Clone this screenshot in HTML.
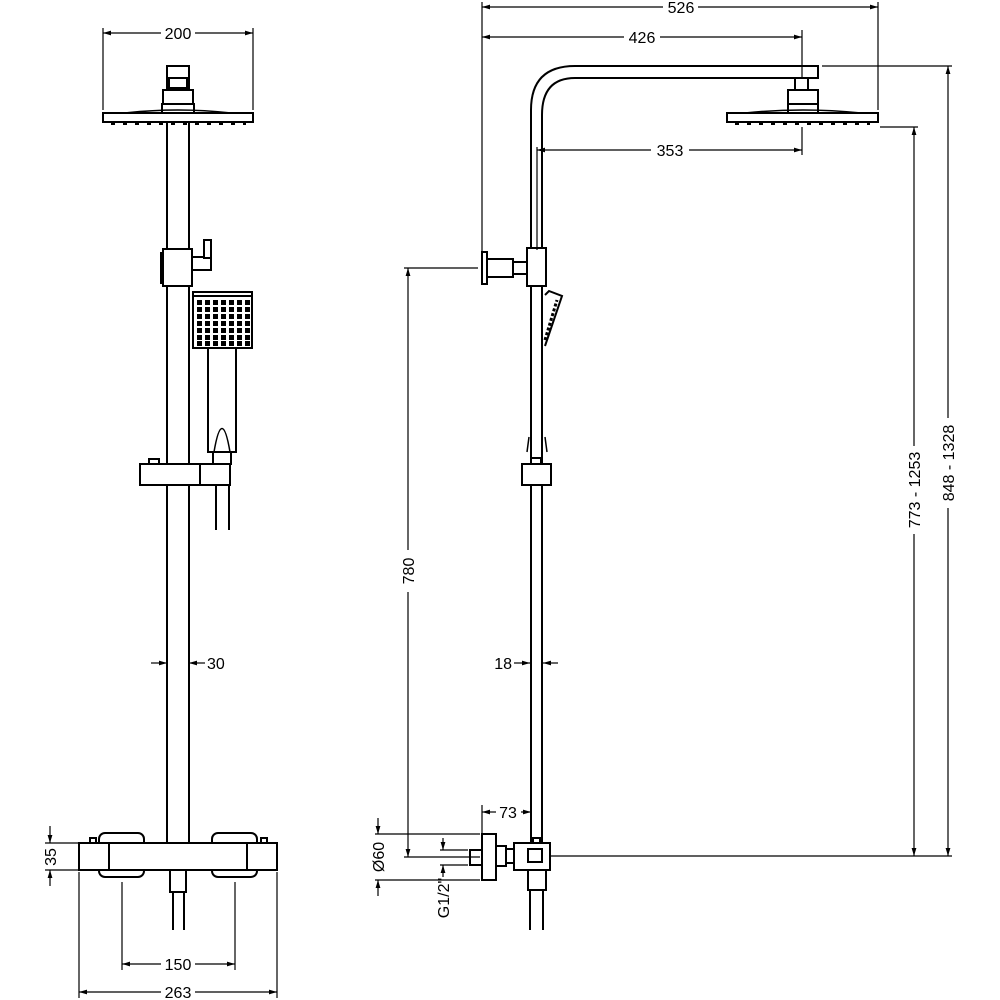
<!DOCTYPE html>
<html><head><meta charset="utf-8"><style>html,body{margin:0;padding:0;background:#fff}svg{display:block}</style></head>
<body>
<svg width="1000" height="1000" viewBox="0 0 1000 1000" xmlns="http://www.w3.org/2000/svg" font-family="Liberation Sans, sans-serif" font-size="16">
<defs>
<marker id="a" viewBox="0 0 10 6" refX="10" refY="3" markerWidth="7" markerHeight="4" orient="auto-start-reverse"><path d="M0,0 L10,3 L0,6z" fill="#000"/></marker>
</defs>
<g fill="none" stroke="#000" stroke-width="2">
<rect x="103" y="113" width="150" height="9"/>
<path d="M125,113 Q178,107 231,113" stroke-width="1.5"/>
<rect x="163" y="90" width="30" height="14"/>
<rect x="162" y="104" width="32" height="9"/>
<rect x="167" y="66" width="22" height="24"/>
<rect x="169" y="78" width="18" height="10"/>
<line x1="167" y1="122" x2="167" y2="843"/>
<line x1="189" y1="122" x2="189" y2="843"/>
<rect x="163" y="249" width="29" height="37" fill="#fff"/>
<rect x="161" y="253" width="2" height="30"/>
<rect x="192" y="257" width="19" height="13" fill="#fff"/>
<rect x="204" y="240" width="7" height="18" fill="#fff"/>
<rect x="193" y="292" width="59" height="56" fill="#fff"/>
<line x1="193" y1="296" x2="252" y2="296"/>
<rect x="208" y="348" width="28" height="104"/>
<path d="M214,452 Q222,405 230,452" stroke-width="1.5"/>
<rect x="213" y="452" width="18" height="12"/>
<rect x="140" y="464" width="90" height="21" fill="#fff"/>
<line x1="200" y1="464" x2="200" y2="485"/>
<rect x="149" y="459" width="10" height="5"/>
<line x1="216" y1="485" x2="216" y2="530"/>
<line x1="229" y1="485" x2="229" y2="530"/>
<rect x="99" y="833" width="45" height="44" rx="6"/>
<rect x="212" y="833" width="45" height="44" rx="6"/>
<rect x="79" y="843" width="198" height="27" fill="#fff"/>
<line x1="109" y1="843" x2="109" y2="870"/>
<line x1="247" y1="843" x2="247" y2="870"/>
<rect x="90" y="838" width="6" height="5"/>
<rect x="261" y="838" width="6" height="5"/>
<rect x="170" y="870" width="16" height="22"/>
<line x1="173" y1="892" x2="173" y2="930"/>
<line x1="184" y1="892" x2="184" y2="930"/>

<path d="M531,850 L531,110 Q531,66 575,66 L818,66 L818,78 L575,78 Q542,78 542,115 L542,850"/>
<rect x="795" y="78" width="13" height="12"/>
<rect x="788" y="90" width="30" height="14"/>
<rect x="788" y="104" width="30" height="9"/>
<rect x="727" y="113" width="151" height="9"/>
<path d="M745,113 Q803,107 861,113" stroke-width="1.5"/>
<rect x="527" y="248" width="19" height="38" fill="#fff"/>
<rect x="482" y="252" width="5" height="32"/>
<rect x="487" y="259" width="26" height="18"/>
<rect x="513" y="262" width="14" height="12"/>
<path d="M545,295 L549,291 L562,296 L545,346" fill="#fff"/>
<path d="M545,340 L557,300" stroke-width="3" stroke-dasharray="3,2"/>
<path d="M529,437 L527,452 M545,437 L547,452" stroke-width="1.5"/>
<rect x="531" y="458" width="10" height="6" fill="#fff"/>
<rect x="522" y="464" width="29" height="21" fill="#fff"/>
<rect x="514" y="843" width="36" height="27" fill="#fff"/>
<rect x="528" y="849" width="14" height="13"/>
<rect x="533" y="838" width="7" height="5"/>
<rect x="528" y="870" width="18" height="20" fill="#fff"/>
<line x1="530" y1="890" x2="530" y2="930"/>
<line x1="543" y1="890" x2="543" y2="930"/>
<rect x="482" y="834" width="14" height="46"/>
<rect x="496" y="846" width="10" height="20"/>
<rect x="506" y="849" width="8" height="14"/>
<rect x="470" y="850" width="12" height="15"/>
</g>

<g stroke="#000" stroke-width="2" stroke-dasharray="4,8">
<line x1="111" y1="124" x2="246" y2="124"/>
<line x1="735" y1="124" x2="870" y2="124"/>
</g>
<g fill="#000">
<rect x="197" y="300" width="5" height="5"/><rect x="205" y="300" width="5" height="5"/><rect x="213" y="300" width="5" height="5"/><rect x="221" y="300" width="5" height="5"/><rect x="229" y="300" width="5" height="5"/><rect x="237" y="300" width="5" height="5"/><rect x="245" y="300" width="5" height="5"/>
<rect x="197" y="307" width="5" height="5"/><rect x="205" y="307" width="5" height="5"/><rect x="213" y="307" width="5" height="5"/><rect x="221" y="307" width="5" height="5"/><rect x="229" y="307" width="5" height="5"/><rect x="237" y="307" width="5" height="5"/><rect x="245" y="307" width="5" height="5"/>
<rect x="197" y="314" width="5" height="5"/><rect x="205" y="314" width="5" height="5"/><rect x="213" y="314" width="5" height="5"/><rect x="221" y="314" width="5" height="5"/><rect x="229" y="314" width="5" height="5"/><rect x="237" y="314" width="5" height="5"/><rect x="245" y="314" width="5" height="5"/>
<rect x="197" y="321" width="5" height="5"/><rect x="205" y="321" width="5" height="5"/><rect x="213" y="321" width="5" height="5"/><rect x="221" y="321" width="5" height="5"/><rect x="229" y="321" width="5" height="5"/><rect x="237" y="321" width="5" height="5"/><rect x="245" y="321" width="5" height="5"/>
<rect x="197" y="328" width="5" height="5"/><rect x="205" y="328" width="5" height="5"/><rect x="213" y="328" width="5" height="5"/><rect x="221" y="328" width="5" height="5"/><rect x="229" y="328" width="5" height="5"/><rect x="237" y="328" width="5" height="5"/><rect x="245" y="328" width="5" height="5"/>
<rect x="197" y="335" width="5" height="5"/><rect x="205" y="335" width="5" height="5"/><rect x="213" y="335" width="5" height="5"/><rect x="221" y="335" width="5" height="5"/><rect x="229" y="335" width="5" height="5"/><rect x="237" y="335" width="5" height="5"/><rect x="245" y="335" width="5" height="5"/>
<rect x="197" y="341" width="5" height="5"/><rect x="205" y="341" width="5" height="5"/><rect x="213" y="341" width="5" height="5"/><rect x="221" y="341" width="5" height="5"/><rect x="229" y="341" width="5" height="5"/><rect x="237" y="341" width="5" height="5"/><rect x="245" y="341" width="5" height="5"/>
</g>

<g stroke="#000" stroke-width="1.2" fill="none">
<line x1="103" y1="28" x2="103" y2="110"/><line x1="253" y1="28" x2="253" y2="110"/>
<line x1="103" y1="33" x2="161" y2="33" marker-start="url(#a)"/><line x1="195" y1="33" x2="253" y2="33" marker-end="url(#a)"/>
<line x1="151" y1="663" x2="167" y2="663" marker-end="url(#a)"/><line x1="205" y1="663" x2="189" y2="663" marker-end="url(#a)"/>
<line x1="45" y1="843" x2="105" y2="843"/><line x1="45" y1="870" x2="105" y2="870"/>
<line x1="50" y1="826" x2="50" y2="843" marker-end="url(#a)"/><line x1="50" y1="886" x2="50" y2="870" marker-end="url(#a)"/>
<line x1="122" y1="882" x2="122" y2="970"/><line x1="235" y1="882" x2="235" y2="970"/>
<line x1="122" y1="964" x2="161" y2="964" marker-start="url(#a)"/><line x1="195" y1="964" x2="235" y2="964" marker-end="url(#a)"/>
<line x1="79" y1="872" x2="79" y2="998"/><line x1="277" y1="872" x2="277" y2="998"/>
<line x1="79" y1="992" x2="161" y2="992" marker-start="url(#a)"/><line x1="195" y1="992" x2="277" y2="992" marker-end="url(#a)"/>

<line x1="482" y1="2" x2="482" y2="256"/><line x1="878" y1="2" x2="878" y2="110"/>
<line x1="482" y1="7" x2="663" y2="7" marker-start="url(#a)"/><line x1="698" y1="7" x2="878" y2="7" marker-end="url(#a)"/>
<line x1="802" y1="30" x2="802" y2="78"/>
<line x1="482" y1="37" x2="624" y2="37" marker-start="url(#a)"/><line x1="660" y1="37" x2="802" y2="37" marker-end="url(#a)"/>
<line x1="802" y1="127" x2="802" y2="155"/>
<line x1="537" y1="147" x2="537" y2="250"/>
<line x1="537" y1="150" x2="651" y2="150" marker-start="url(#a)"/><line x1="689" y1="150" x2="802" y2="150" marker-end="url(#a)"/>
<line x1="404" y1="268" x2="478" y2="268"/><line x1="404" y1="857" x2="480" y2="857"/>
<line x1="408" y1="268" x2="408" y2="550" marker-start="url(#a)"/><line x1="408" y1="592" x2="408" y2="857" marker-end="url(#a)"/>
<line x1="514" y1="663" x2="530" y2="663" marker-end="url(#a)"/><line x1="558" y1="663" x2="543" y2="663" marker-end="url(#a)"/>
<line x1="550" y1="856" x2="952" y2="856"/>
<line x1="880" y1="127" x2="918" y2="127"/>
<line x1="822" y1="66" x2="952" y2="66"/>
<line x1="914" y1="127" x2="914" y2="446" marker-start="url(#a)"/><line x1="914" y1="534" x2="914" y2="856" marker-end="url(#a)"/>
<line x1="948" y1="66" x2="948" y2="418" marker-start="url(#a)"/><line x1="948" y1="508" x2="948" y2="856" marker-end="url(#a)"/>
<line x1="482" y1="805" x2="482" y2="834"/>
<line x1="482" y1="812" x2="496" y2="812" marker-start="url(#a)"/><line x1="521" y1="812" x2="531" y2="812" marker-end="url(#a)"/>
<line x1="375" y1="834" x2="480" y2="834"/><line x1="375" y1="880" x2="480" y2="880"/>
<line x1="378" y1="818" x2="378" y2="834" marker-end="url(#a)"/><line x1="378" y1="896" x2="378" y2="880" marker-end="url(#a)"/>
<line x1="440" y1="850" x2="468" y2="850"/><line x1="440" y1="865" x2="468" y2="865"/>
<line x1="443" y1="838" x2="443" y2="850" marker-end="url(#a)"/><line x1="443" y1="877" x2="443" y2="865" marker-end="url(#a)"/>
</g>

<g fill="#000">
<text x="178" y="39" text-anchor="middle">200</text>
<text x="207" y="669">30</text>
<text x="178" y="970" text-anchor="middle">150</text>
<text x="178" y="998" text-anchor="middle">263</text>
<text transform="translate(56,857) rotate(-90)" text-anchor="middle">35</text>
<text x="681" y="13" text-anchor="middle">526</text>
<text x="642" y="43" text-anchor="middle">426</text>
<text x="670" y="156" text-anchor="middle">353</text>
<text transform="translate(414,571) rotate(-90)" text-anchor="middle">780</text>
<text x="512" y="669" text-anchor="end">18</text>
<text transform="translate(920,490) rotate(-90)" text-anchor="middle">773 - 1253</text>
<text transform="translate(954,463) rotate(-90)" text-anchor="middle">848 - 1328</text>
<text x="508" y="818" text-anchor="middle">73</text>
<text transform="translate(384,857) rotate(-90)" text-anchor="middle">Ø60</text>
<text transform="translate(449,898) rotate(-90)" text-anchor="middle">G1/2"</text>
</g>
</svg>
</body></html>
